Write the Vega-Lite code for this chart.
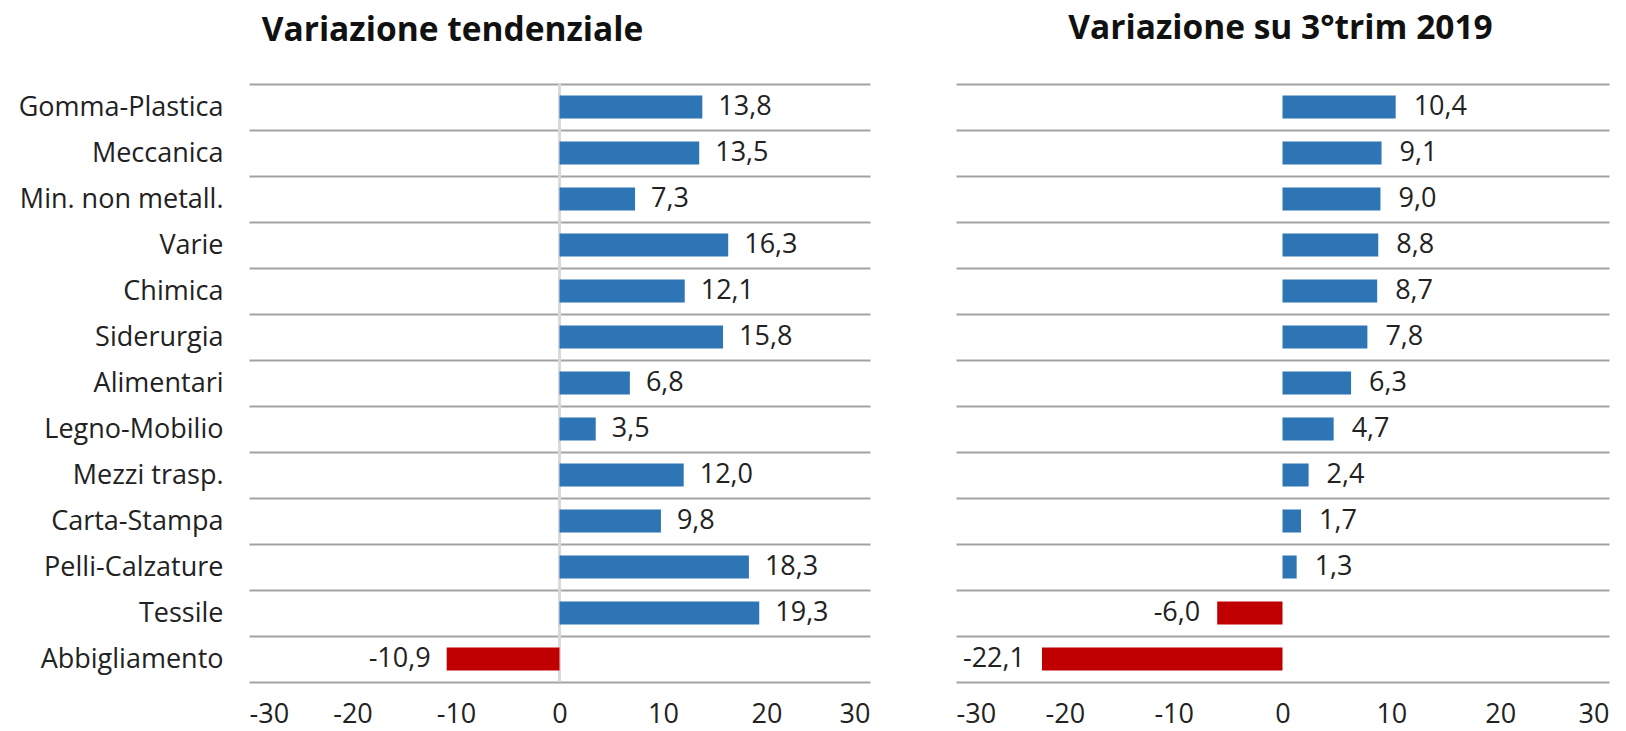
{
  "$schema": "https://vega.github.io/schema/vega-lite/v6.json",
  "background": "white",
  "padding": {"left": 18, "top": 12, "right": 5, "bottom": 0},
  "config": {
    "locale": {"number": {"decimal": ",", "thousands": ".", "grouping": [3], "currency": ["", " €"], "minus": "-"}},
    "view": {"stroke": null},
    "font": "Open Sans",
    "title": {"font": "Open Sans", "fontWeight": "bold", "fontSize": 33.5, "color": "#111111", "frame": "group", "baseline": "alphabetic"},
    "axis": {"labelFont": "Open Sans", "labelColor": "#222222", "labelFontSize": 27, "domain": false, "ticks": false, "title": null}
  },
  "datasets": {
    "d": [
      {"settore": "Gomma-Plastica", "tend": 13.8, "trim": 10.4},
      {"settore": "Meccanica", "tend": 13.5, "trim": 9.1},
      {"settore": "Min. non metall.", "tend": 7.3, "trim": 9.0},
      {"settore": "Varie", "tend": 16.3, "trim": 8.8},
      {"settore": "Chimica", "tend": 12.1, "trim": 8.7},
      {"settore": "Siderurgia", "tend": 15.8, "trim": 7.8},
      {"settore": "Alimentari", "tend": 6.8, "trim": 6.3},
      {"settore": "Legno-Mobilio", "tend": 3.5, "trim": 4.7},
      {"settore": "Mezzi trasp.", "tend": 12.0, "trim": 2.4},
      {"settore": "Carta-Stampa", "tend": 9.8, "trim": 1.7},
      {"settore": "Pelli-Calzature", "tend": 18.3, "trim": 1.3},
      {"settore": "Tessile", "tend": 19.3, "trim": -6.0},
      {"settore": "Abbigliamento", "tend": -10.9, "trim": -22.1}
    ]
  },
  "spacing": 86,
  "resolve": {"scale": {"x": "independent", "y": "independent"}},
  "hconcat": [
    {
      "width": 621,
      "height": 598,
      "title": {"text": "Variazione tendenziale", "dx": -107, "offset": 21.5},
      "data": {"name": "d"},
      "layer": [
        {
          "mark": {"type": "rule", "color": "#d9d9d9", "strokeWidth": 2},
          "encoding": {"x": {"datum": 0, "type": "quantitative"}}
        },
        {
          "mark": {"type": "bar", "height": {"band": 0.5}},
          "encoding": {
            "y": {"field": "settore", "type": "nominal", "sort": null,
              "scale": {"paddingInner": 0, "paddingOuter": 0},
              "axis": {"grid": true, "gridColor": "#a3a3a3", "gridWidth": 2, "tickBand": "extent", "labelPadding": 26, "labelLimit": 400}},
            "x": {"field": "tend", "type": "quantitative",
              "scale": {"domain": [-30, 30], "nice": false, "zero": false},
              "axis": {"values": [-30, -20, -10, 0, 10, 20, 30], "format": "d", "grid": false, "labelPadding": 19}},
            "color": {"condition": {"test": "datum.tend < 0", "value": "#C00000"}, "value": "#2E75B6"}
          }
        },
        {
          "transform": [{"filter": "datum.tend >= 0"}],
          "mark": {"type": "text", "align": "left", "baseline": "middle", "dx": 16, "fontSize": 27, "color": "#222222"},
          "encoding": {
            "y": {"field": "settore", "type": "nominal", "sort": null},
            "x": {"field": "tend", "type": "quantitative"},
            "text": {"field": "tend", "type": "quantitative", "format": ".1f"}
          }
        },
        {
          "transform": [{"filter": "datum.tend < 0"}],
          "mark": {"type": "text", "align": "right", "baseline": "middle", "dx": -16, "fontSize": 27, "color": "#222222"},
          "encoding": {
            "y": {"field": "settore", "type": "nominal", "sort": null},
            "x": {"field": "tend", "type": "quantitative"},
            "text": {"field": "tend", "type": "quantitative", "format": ".1f"}
          }
        }
      ]
    },
    {
      "width": 653,
      "height": 598,
      "title": {"text": "Variazione su 3°trim 2019", "dx": -2, "offset": 37.5},
      "data": {"name": "d"},
      "layer": [
        {
          "mark": {"type": "bar", "height": {"band": 0.5}},
          "encoding": {
            "y": {"field": "settore", "type": "nominal", "sort": null,
              "scale": {"paddingInner": 0, "paddingOuter": 0},
              "axis": {"grid": true, "gridColor": "#a3a3a3", "gridWidth": 2, "tickBand": "extent", "labels": false}},
            "x": {"field": "trim", "type": "quantitative",
              "scale": {"domain": [-30, 30], "nice": false, "zero": false},
              "axis": {"values": [-30, -20, -10, 0, 10, 20, 30], "format": "d", "grid": false, "labelPadding": 19}},
            "color": {"condition": {"test": "datum.trim < 0", "value": "#C00000"}, "value": "#2E75B6"}
          }
        },
        {
          "transform": [{"filter": "datum.trim >= 0"}],
          "mark": {"type": "text", "align": "left", "baseline": "middle", "dx": 18, "fontSize": 27, "color": "#222222"},
          "encoding": {
            "y": {"field": "settore", "type": "nominal", "sort": null},
            "x": {"field": "trim", "type": "quantitative"},
            "text": {"field": "trim", "type": "quantitative", "format": ".1f"}
          }
        },
        {
          "transform": [{"filter": "datum.trim < 0"}],
          "mark": {"type": "text", "align": "right", "baseline": "middle", "dx": -17, "fontSize": 27, "color": "#222222"},
          "encoding": {
            "y": {"field": "settore", "type": "nominal", "sort": null},
            "x": {"field": "trim", "type": "quantitative"},
            "text": {"field": "trim", "type": "quantitative", "format": ".1f"}
          }
        }
      ]
    }
  ]
}
